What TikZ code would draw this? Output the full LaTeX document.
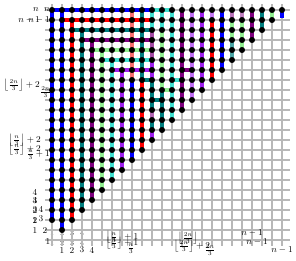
\documentclass[tikz,border=0pt]{standalone}
\begin{document}
\begin{tikzpicture}[x=1pt,y=-1pt]
\useasboundingbox (0,0) rectangle (296,260);
\tikzset{
  gridline/.style={draw=black!28, line width=1.1pt},
  dot/.style={circle, fill=black, inner sep=0pt, minimum size=6.1pt},
  seg/.style={line width=3.3pt},
  lab/.style={inner sep=0pt, font=\small},
  slab/.style={inner sep=0pt, font=\scriptsize},
}
\definecolor{cteal}{RGB}{0,128,128}
\definecolor{cpurple}{RGB}{128,0,128}
\definecolor{cgreen}{RGB}{144,238,144}
\definecolor{cturq}{RGB}{64,224,208}
\definecolor{cviolet}{RGB}{160,32,240}
\definecolor{csalmon}{RGB}{250,110,110}
% labels under the grid
\foreach \c/\t in {0/1,1/2,2/3,3/4} {
  \node[slab] (pa\c) at (52+10*\c,233) {\t};
  \node[slab] (qa\c) at (52+10*\c,243) {\t};
}
% grid
\foreach \c in {0,...,23} \draw[gridline] (52+10*\c,4) -- (52+10*\c,246);
\foreach \r in {0,...,23} \draw[gridline] (45,10+10*\r) -- (290,10+10*\r);
% coordinates of dots: column c, level j (y = 240-10j)
\foreach \j in {2,...,23} \coordinate (p-0-\j) at (52,240-10*\j);
\foreach \j in {1,...,23} {
  \foreach \c in {1,...,\j} \coordinate (p-\c-\j) at (52+10*\c,240-10*\j);
}
% vertical runs: column / from level / to level / colour
\foreach \c/\a/\b/\col in {
  0/2/23/blue, 1/1/23/blue, 2/2/22/red, 3/3/21/cteal, 4/4/20/cpurple,
  5/5/19/cgreen, 6/6/18/cturq, 7/7/17/cviolet,
  8/16/23/csalmon, 8/8/16/blue, 9/16/23/cteal, 9/9/16/red,
  10/21/23/cturq, 10/18/21/cpurple!70, 10/16/18/cviolet, 10/13/16/cteal, 10/12/13/cpurple!60, 10/11/12/cteal, 10/10/11/cviolet,
  11/21/23/cturq, 11/15/21/cgreen, 11/11/15/cteal,
  12/12/23/cturq, 13/13/23/cpurple, 14/14/23/cviolet!65, 15/15/23/cviolet,
  16/16/22/red, 16/22/23/cviolet!60, 17/17/23/blue,
  18/22/23/cpurple!55, 18/20/22/cgreen, 18/18/20/cteal!70,
  19/22/23/cpurple!50, 19/19/22/cgreen, 20/20/23/cpurple, 21/21/23/cteal, 22/22/23/cgreen} {
  \pgfmathtruncatemacro{\bb}{\b-1}
  \foreach \j in {\a,...,\bb} {
    \pgfmathtruncatemacro{\jj}{\j+1}
    \draw[seg,\col] (p-\c-\j) -- (p-\c-\jj);
  }
}
% horizontal runs: level / from column / to column / colour
\foreach \j/\a/\b/\col in {23/0/10/blue, 23/10/12/cturq, 22/1/10/red, 21/2/10/cteal,
  20/3/10/cpurple, 19/4/10/cgreen, 18/5/10/cturq, 17/6/10/cviolet, 17/13/14/cpurple,
  16/9/10/cteal, 16/12/13/cturq, 15/11/12/cgreen, 14/10/11/cteal} {
  \pgfmathtruncatemacro{\bb}{\b-1}
  \foreach \c in {\a,...,\bb} {
    \pgfmathtruncatemacro{\cc}{\c+1}
    \draw[seg,\col] (p-\c-\j) -- (p-\cc-\j);
  }
}
\coordinate (stub) at (282,18);
\draw[seg,blue] (p-23-23) -- (stub);
% dots
\foreach \j in {2,...,23} \node[dot] (d-0-\j) at (p-0-\j) {};
\foreach \j in {1,...,23} {
  \foreach \c in {1,...,\j} \node[dot] (d-\c-\j) at (p-\c-\j) {};
}
% left labels
\node[lab,anchor=east] (ln1) at (39,10) {$n$};
\node[lab,anchor=east] (ln2) at (50,10) {$n$};
\node[lab,anchor=east] (lm1) at (40,20) {$n-1$};
\node[lab,anchor=east] (lm2) at (50,20) {$n-1$};
\node[lab,anchor=east] (lf1) at (40,85) {$\left\lfloor\frac{2n}{3}\right\rfloor+2$};
\node[lab,anchor=east] (lf2) at (51,92) {$\frac{2n}{3}$};
\node[lab,anchor=east] (lg1) at (41,140) {$\left\lfloor\frac{n}{3}\right\rfloor+2$};
\node[lab,anchor=east] (lg2) at (41,149) {$\left\lfloor\frac{n}{3}\right\rfloor+2$};
\node[lab,anchor=east] (lg3) at (50,155) {$\frac{n}{3}+1$};
\foreach \t/\y in {4/192,3/201,4/200,2/210,3/210,1/220,2/220,1/230} \node[lab] at (35,\y) {\t};
\foreach \t/\x/\y in {4/41/209,3/41/219,2/45/230,1/48/241} \node[lab] at (\x,\y) {\t};
% bottom labels
\foreach \t/\x in {1/62,2/72,3/82,4/92} \node[lab] at (\x,250) {\t};
\node[lab] (bn1) at (122,237) {$\left\lfloor\frac{n}{3}\right\rfloor+1$};
\node[lab] (bn2) at (122,243) {$\left\lfloor\frac{n}{3}\right\rfloor+1$};
\node[lab] (bn3) at (131,249) {$\frac{n}{3}$};
\node[lab] (b2n1) at (188,238) {$\left\lfloor\frac{2n}{3}\right\rfloor$};
\node[lab] (b2n2) at (192,246) {$\left\lfloor\frac{2n}{3}\right\rfloor+2$};
\node[lab] (b2n3) at (210,250) {$\frac{2n}{3}$};
\node[lab] (bm1) at (252,233) {$n-1$};
\node[lab] (bm2) at (257,242) {$n-1$};
\node[lab] (bm3) at (282,250) {$n-1$};
\end{tikzpicture}
\end{document}
